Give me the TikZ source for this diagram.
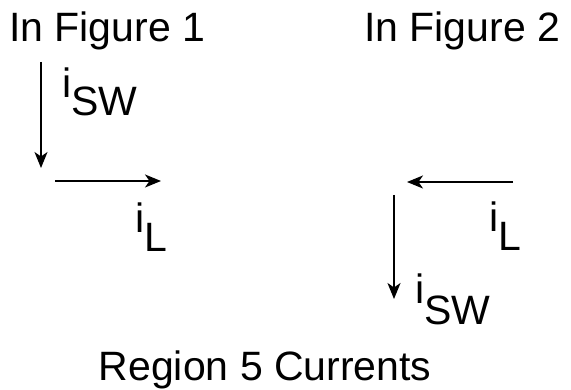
\documentclass[tikz,border=0pt]{standalone}
\usepackage{fontspec}
\setmainfont{Liberation Sans}
\usetikzlibrary{arrows.meta}
\tikzset{
  lbl/.style={anchor=base west, inner sep=0pt, outer sep=0pt, font=\fontsize{41}{48}\selectfont},
  cur/.style={line width=2pt, -{Stealth[length=16pt, width=13pt, inset=4.5pt]}}
}
\begin{document}
\begin{tikzpicture}[x=1pt, y=-1pt]
\useasboundingbox (0,0) rectangle (571,390);
\node[lbl] (fig1) at (9.1,42) {In Figure 1};
\node[lbl] (fig2) at (364.1,42) {In Figure 2};
\node[lbl] (title) at (98.8,381) {Region 5 Currents};
\node[lbl] (isw1) at (62.3,98) {i\raisebox{-18pt}{SW}};
\node[lbl] (il1) at (135.3,233) {i\raisebox{-19pt}{L}};
\node[lbl] (il2) at (489.3,232) {i\raisebox{-19pt}{L}};
\node[lbl] (isw2) at (415.3,304) {i\raisebox{-21pt}{SW}};
% left arrows
\coordinate (a1s) at (41,62);
\coordinate (a1e) at (41,168);
\coordinate (b1s) at (55,181);
\coordinate (b1e) at (161,181);
% right arrows
\coordinate (b2s) at (513,182);
\coordinate (b2e) at (407,182);
\coordinate (a2s) at (394,195);
\coordinate (a2e) at (394,299);
\draw[cur] (a1s) -- (a1e);
\draw[cur] (b1s) -- (b1e);
\draw[cur] (b2s) -- (b2e);
\draw[cur] (a2s) -- (a2e);
\end{tikzpicture}
\end{document}
